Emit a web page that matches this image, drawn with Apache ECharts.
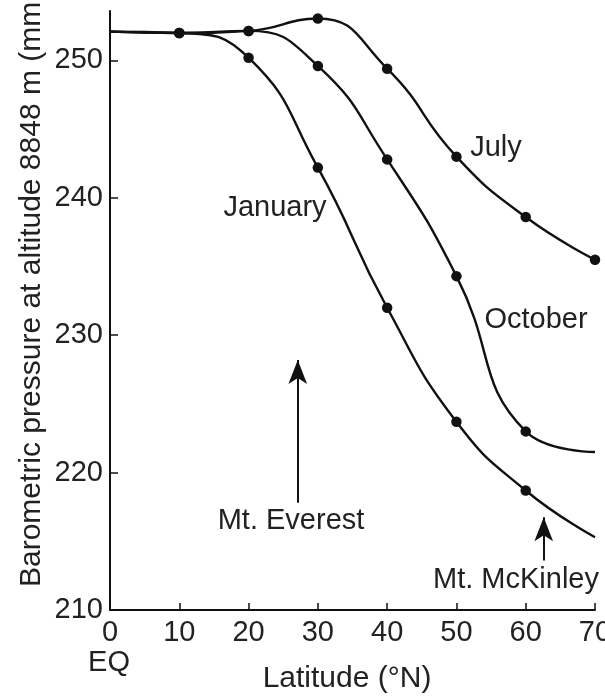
<!DOCTYPE html>
<html><head><meta charset="utf-8">
<script src="https://cdn.jsdelivr.net/npm/echarts@6/dist/echarts.min.js"></script>
<style>html,body{margin:0;padding:0;background:#fff}#c{width:605px;height:698px}</style>
</head><body><div id="c"></div>
<script>
// Latitude (°N)
const latitudes = [0, 10, 20, 30, 40, 50, 60, 70];
// Barometric pressure at 8848 m (mm Hg)
const january = [252.1, 252.0, 250.2, 242.2, 232.0, 223.7, 218.7, 215.3];
const october = [252.1, 252.0, 252.15, 249.6, 242.8, 234.3, 223.0, 221.5];
const july    = [252.1, 252.0, 252.15, 253.05, 249.4, 243.0, 238.6, 235.5];
// which measured points carry a dot
const janDots = [false, true, true, true, true, true, true, false];
const octDots = [false, true, true, true, true, true, true, false];
const julDots = [false, true, true, true, true, true, true, true];
const xTicks = [0, 10, 20, 30, 40, 50, 60, 70];
const yTicks = [210, 220, 230, 240, 250];
// arrows: [latitude, from pressure, to pressure]
const everestArrow = [27.1, 217.8, 228.2];
const mckinleyArrow = [62.6, 213.6, 216.75];

const FONT = "'Liberation Sans', Arial, Helvetica, sans-serif";
const INK = '#111';
const TXT = '#222';

function build(vals, dots) {
  return latitudes.map((x, i) => ({
    value: [x, vals[i]],
    symbol: dots[i] ? 'circle' : 'none'
  }));
}
function lineSeries(name, vals, dots) {
  return {
    name, type: 'line', smooth: 0.5,
    data: build(vals, dots),
    symbolSize: 10.5,
    itemStyle: { color: INK },
    lineStyle: { color: INK, width: 2.4 },
    silent: true, animation: false
  };
}
function arrowLine(a) {
  return [{ coord: [a[0], a[1]] }, { coord: [a[0], a[2]] }];
}

const chart = echarts.init(document.getElementById('c'), null, { renderer: 'canvas' });
const series = [
  lineSeries('January', january, janDots),
  lineSeries('October', october, octDots),
  lineSeries('July', july, julDots)
];
series[0].markLine = {
  silent: true, animation: false,
  symbol: ['none', 'arrow'], symbolSize: [14, 24],
  label: { show: false },
  lineStyle: { color: INK, width: 2, type: 'solid' },
  data: [arrowLine(everestArrow), arrowLine(mckinleyArrow)]
};

chart.setOption({
  animation: false,
  backgroundColor: '#fff',
  grid: { left: 110, right: 10, top: 11, bottom: 88, containLabel: false, outerBoundsMode: 'none' },
  xAxis: {
    type: 'value', min: 0, max: 70, interval: 10,
    axisLine: { show: true, lineStyle: { color: INK, width: 2 } },
    axisTick: { show: true, inside: true, length: 7, lineStyle: { color: INK, width: 1.5 }, customValues: xTicks },
    axisLabel: { color: TXT, fontSize: 29, fontFamily: FONT, margin: 8, customValues: xTicks, hideOverlap: false },
    splitLine: { show: false }
  },
  yAxis: {
    type: 'value', min: 210, max: 253.6, interval: 10,
    axisLine: { show: true, lineStyle: { color: INK, width: 2 } },
    axisTick: { show: true, inside: true, length: 8, lineStyle: { color: INK, width: 1.5 }, customValues: yTicks },
    axisLabel: { color: TXT, fontSize: 29, fontFamily: FONT, margin: 7, customValues: yTicks },
    splitLine: { show: false }
  },
  series,
  graphic: [
    { type: 'text', x: 32, y: 587, rotation: Math.PI / 2, silent: true,
      style: { text: 'Barometric pressure at altitude 8848 m (mm Hg)', fill: TXT, font: '30px ' + FONT, textAlign: 'left', textVerticalAlign: 'middle' } },
    { type: 'text', x: 347, y: 679, silent: true,
      style: { text: 'Latitude (°N)', fill: TXT, font: '30px ' + FONT, textAlign: 'center', textVerticalAlign: 'middle' } },
    { type: 'text', x: 109, y: 663, silent: true,
      style: { text: 'EQ', fill: TXT, font: '29px ' + FONT, textAlign: 'center', textVerticalAlign: 'middle' } },
    { type: 'text', x: 275, y: 208, silent: true,
      style: { text: 'January', fill: TXT, font: '29px ' + FONT, textAlign: 'center', textVerticalAlign: 'middle' } },
    { type: 'text', x: 536, y: 320, silent: true,
      style: { text: 'October', fill: TXT, font: '29px ' + FONT, textAlign: 'center', textVerticalAlign: 'middle' } },
    { type: 'text', x: 496, y: 148, silent: true,
      style: { text: 'July', fill: TXT, font: '29px ' + FONT, textAlign: 'center', textVerticalAlign: 'middle' } },
    { type: 'text', x: 291, y: 521, silent: true,
      style: { text: 'Mt. Everest', fill: TXT, font: '29px ' + FONT, textAlign: 'center', textVerticalAlign: 'middle' } },
    { type: 'text', x: 516, y: 580, silent: true,
      style: { text: 'Mt. McKinley', fill: TXT, font: '29px ' + FONT, textAlign: 'center', textVerticalAlign: 'middle' } }
  ]
});
</script>
</body></html>
